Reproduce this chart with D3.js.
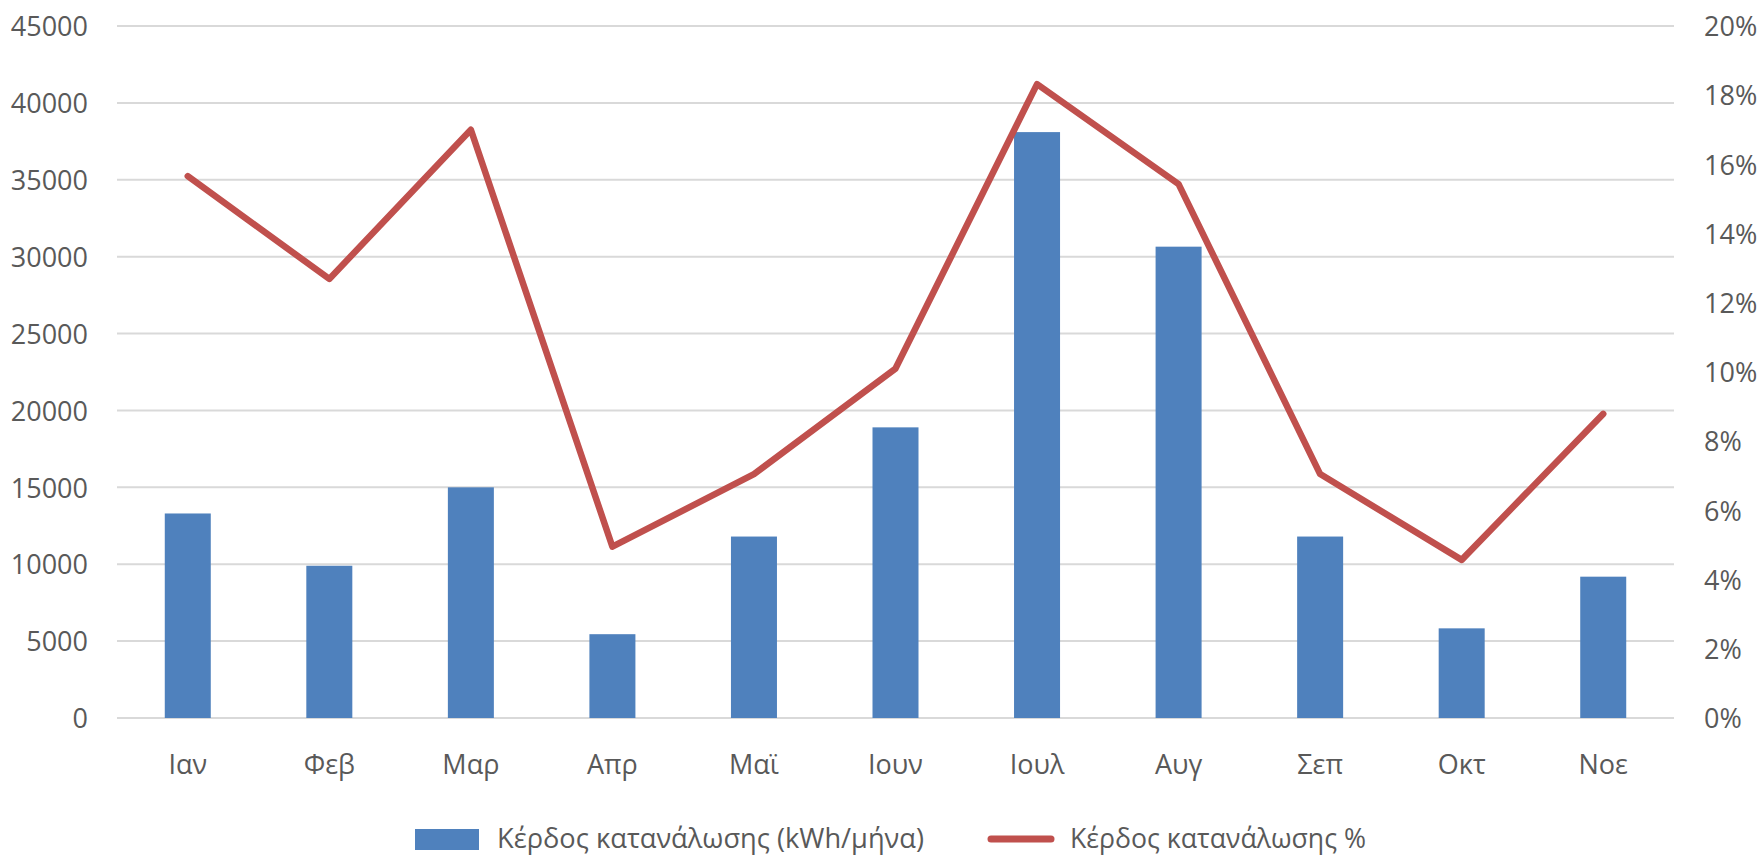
<!DOCTYPE html>
<html>
<head>
<meta charset="utf-8">
<script src="https://cdn.jsdelivr.net/npm/d3@7"></script>
<style>
  html, body { margin: 0; padding: 0; background: #fff; }
  svg { display: block; }
  text { font-family: "Open Sans", "Noto Sans", sans-serif; fill: #595959; }
</style>
</head>
<body>
<svg id="chart" width="1758" height="856"></svg>
<script>
// Monthly consumption gain (kWh) and gain as a share (%)
const months = ["Ιαν", "Φεβ", "Μαρ", "Απρ", "Μαϊ", "Ιουν", "Ιουλ", "Αυγ", "Σεπ", "Οκτ", "Νοε"];
const gainKwh = [13300, 9900, 15000, 5450, 11800, 18900, 38100, 30650, 11800, 5830, 9190];
const gainPct = [15.66, 12.69, 17.0, 4.95, 7.05, 10.1, 18.32, 15.43, 7.05, 4.57, 8.79];
const leftTicks = [0, 5000, 10000, 15000, 20000, 25000, 30000, 35000, 40000, 45000];
const rightTicks = [0, 2, 4, 6, 8, 10, 12, 14, 16, 18, 20];
const seriesNames = ["Κέρδος κατανάλωσης (kWh/μήνα)", "Κέρδος κατανάλωσης %"];

const barColor = "#4F81BD";
const lineColor = "#C0504D";
const gridColor = "#D9D9D9";

const svg = d3.select("#chart");
const plot = { left: 117, right: 1674, top: 26, bottom: 718 };

const x = d3.scaleBand().domain(months).range([plot.left, plot.right]).padding(0);
const yL = d3.scaleLinear().domain([0, 45000]).range([plot.bottom, plot.top]);
const yR = d3.scaleLinear().domain([0, 20]).range([plot.bottom, plot.top]);
const barW = x.bandwidth() * 0.325;
const fontSize = 27;

// Horizontal gridlines
svg.append("g")
  .selectAll("line")
  .data(leftTicks)
  .join("line")
  .attr("x1", plot.left).attr("x2", plot.right)
  .attr("y1", d => yL(d)).attr("y2", d => yL(d))
  .attr("stroke", gridColor).attr("stroke-width", 2);

// Left axis (kWh)
const axL = svg.append("g")
  .attr("transform", `translate(${plot.left - 29},0)`)
  .call(d3.axisLeft(yL).tickValues(leftTicks).tickSize(0).tickPadding(0).tickFormat(d3.format("d")));
axL.select(".domain").remove();
axL.selectAll("text").style("font-size", fontSize + "px").attr("fill", "#595959").attr("dy", "0.36em");

// Right axis (%)
const axR = svg.append("g")
  .attr("transform", `translate(${plot.right + 30},0)`)
  .call(d3.axisRight(yR).tickValues(rightTicks).tickSize(0).tickPadding(0).tickFormat(d => d + "%"));
axR.select(".domain").remove();
axR.selectAll("text").style("font-size", fontSize + "px").attr("fill", "#595959").attr("dy", "0.36em");

// Category axis
const axB = svg.append("g")
  .attr("transform", `translate(0,${plot.bottom})`)
  .call(d3.axisBottom(x).tickSize(0).tickPadding(0));
axB.select(".domain").remove();
axB.selectAll("text").style("font-size", fontSize + "px").attr("fill", "#595959").attr("y", 56).attr("dy", 0);

// Bars
svg.append("g")
  .selectAll("rect")
  .data(months)
  .join("rect")
  .attr("x", d => x(d) + x.bandwidth() / 2 - barW / 2)
  .attr("width", barW)
  .attr("y", (d, i) => yL(gainKwh[i]))
  .attr("height", (d, i) => yL(0) - yL(gainKwh[i]))
  .attr("fill", barColor);

// Percentage line
const line = d3.line()
  .x((d, i) => x(months[i]) + x.bandwidth() / 2)
  .y(d => yR(d));
svg.append("path")
  .datum(gainPct)
  .attr("d", line)
  .attr("fill", "none")
  .attr("stroke", lineColor)
  .attr("stroke-width", 6.5)
  .attr("stroke-linejoin", "round")
  .attr("stroke-linecap", "round");

// Legend
const lg = svg.append("g");
lg.append("rect").attr("x", 415).attr("y", 829).attr("width", 64).attr("height", 21).attr("fill", barColor);
lg.append("text").attr("x", 497).attr("y", 848).style("font-size", fontSize + "px")
  .attr("textLength", 427).attr("lengthAdjust", "spacingAndGlyphs").text(seriesNames[0]);
lg.append("line").attr("x1", 991).attr("x2", 1051).attr("y1", 839).attr("y2", 839)
  .attr("stroke", lineColor).attr("stroke-width", 7).attr("stroke-linecap", "round");
lg.append("text").attr("x", 1070).attr("y", 848).style("font-size", fontSize + "px")
  .attr("textLength", 296).attr("lengthAdjust", "spacingAndGlyphs").text(seriesNames[1]);
</script>
</body>
</html>
